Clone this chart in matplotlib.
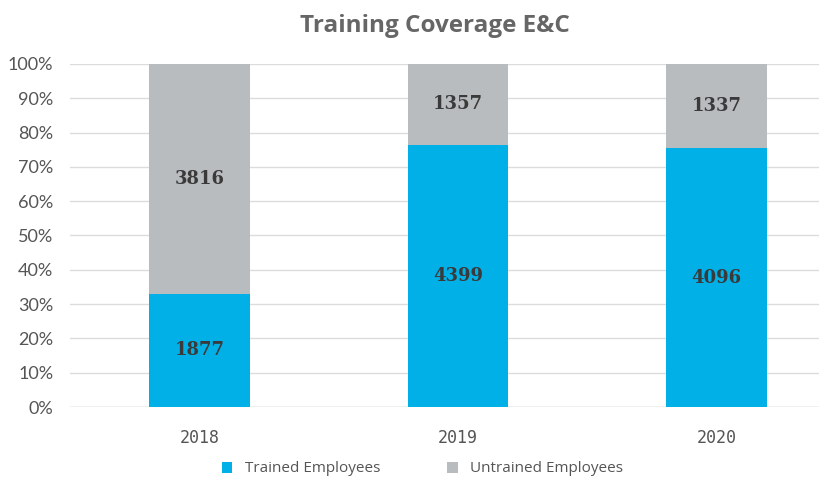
import numpy as np
import matplotlib.pyplot as plt
from matplotlib.ticker import PercentFormatter

years = ["2018", "2019", "2020"]
trained = [1877, 4399, 4096]
untrained = [3816, 1357, 1337]

blue = "#00b0e6"
grey = "#b9bcbf"

tr = np.array(trained, dtype=float)
un = np.array(untrained, dtype=float)
tot = tr + un
tr_pct = tr / tot * 100
un_pct = un / tot * 100

fig = plt.figure(figsize=(8.2, 4.79), dpi=100)
ax = fig.add_axes([70 / 820, 1 - 407 / 479, 776 / 820, (407 - 64) / 479])

x = np.arange(len(years))
w = 0.39
ax.bar(x, tr_pct, w, color=blue, label="Trained Employees", zorder=2)
ax.bar(x, un_pct, w, bottom=tr_pct, color=grey, label="Untrained Employees", zorder=2)

for i in range(len(years)):
    ax.text(x[i], tr_pct[i] / 2, str(trained[i]), ha="center", va="center",
            fontsize=13, fontweight="bold", family="DejaVu Serif", color="#3a3a3a")
    ax.text(x[i], tr_pct[i] + un_pct[i] / 2, str(untrained[i]), ha="center", va="center",
            fontsize=13, fontweight="bold", family="DejaVu Serif", color="#3a3a3a")

ax.set_xlim(-0.5, 2.5)
ax.set_ylim(0, 100)
ax.set_yticks(np.arange(0, 101, 10))
ax.yaxis.set_major_formatter(PercentFormatter(decimals=0))
ax.set_xticks(x)
ax.set_xticklabels(years, family="DejaVu Sans Mono", fontsize=12, color="#555555")
for t in ax.get_yticklabels():
    t.set_family("Lato")
    t.set_fontsize(13)
    t.set_color("#555555")
ax.tick_params(axis="y", length=0, pad=12)
ax.tick_params(axis="x", length=0, pad=16)
ax.grid(axis="y", color="#dcdcdc", linewidth=1, zorder=0)
for s in ax.spines.values():
    s.set_visible(False)
ax.axhline(0, color="#d0d0d0", linewidth=1, zorder=1)

fig.text(0.531, 0.945, "Training Coverage E&C", ha="center", va="center",
         fontsize=17.5, fontweight="bold", family="Open Sans", color="#666666")

leg = fig.legend(loc="center", bbox_to_anchor=(0.515, 1 - 469 / 479), ncol=2,
                 frameon=False, handlelength=0.7, handleheight=0.7,
                 columnspacing=4.4, prop={"family": "Open Sans", "size": 11})
for t in leg.get_texts():
    t.set_color("#555555")

fig.savefig("out.png", dpi=100)
